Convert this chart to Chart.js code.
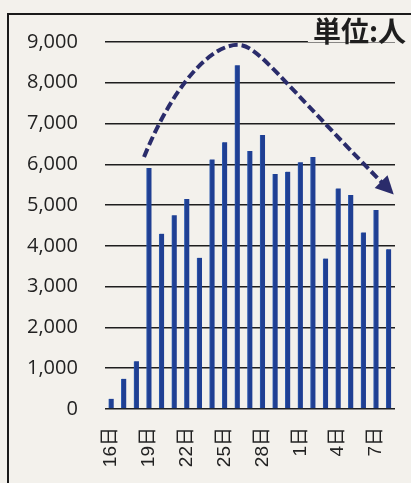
<!DOCTYPE html>
<html>
<head>
<meta charset="utf-8">
<script src="https://cdn.jsdelivr.net/npm/chart.js@4"></script>
<style>
  body { margin: 0; background: #f3f1ec; }
  #frame { position: absolute; left: 7px; top: 13px; width: 420px; height: 480px;
           border-left: 2px solid #1a1a1a; border-top: 2px solid #1a1a1a; }
  #wrap { position: absolute; left: 0; top: 0; width: 411px; height: 483px; }
</style>
</head>
<body>
<div id="frame"></div>
<div id="wrap"><canvas id="myChart"></canvas></div>
<script>
// days 16..30, then 1..8 of next month
const days = ["16日", "17日", "18日", "19日", "20日", "21日", "22日", "23日", "24日", "25日",
  "26日", "27日", "28日", "29日", "30日", "1日", "2日", "3日", "4日", "5日", "6日", "7日", "8日"];
const visitors = [250, 740, 1170, 5910, 4300, 4750, 5150, 3710, 6120, 6540,
  8430, 6330, 6720, 5760, 5820, 6050, 6180, 3690, 5410, 5250, 4330, 4880, 3920];
const yMax = 9000;
const yStep = 1000;
const unitLabel = "単位:人";

// trend arrow, in data units (category index, value)
const trendX = [2.6, 5.0, 8.0, 10.1, 11.6, 13.2, 22.4];
const trendY = [6180, 8000, 8950, 8930, 8920, 8150, 5260];

const arrowPlugin = {
  id: "trendArrow",
  afterDatasetsDraw(chart) {
    const ctx = chart.ctx;
    const xs = chart.scales.x, ys = chart.scales.y;
    const px = trendX.map(v => xs.getPixelForValue(v));
    const py = trendY.map(v => ys.getPixelForValue(v));
    const n = px.length - 1;
    // stop line short of tip so the head covers it
    const dx = px[n] - px[n - 1], dy = py[n] - py[n - 1];
    const len = Math.sqrt(dx * dx + dy * dy);
    const ux = dx / len, uy = dy / len;
    const endX = px[n] - ux * 10, endY = py[n] - uy * 10;

    ctx.save();
    ctx.strokeStyle = "#2a2c6b";
    ctx.lineWidth = 4;
    ctx.setLineDash([9, 4]);
    ctx.beginPath();
    ctx.moveTo(px[0], py[0]);
    ctx.bezierCurveTo(px[1], py[1], px[2], py[2], px[3], py[3]);
    ctx.bezierCurveTo(px[4], py[4], px[5], py[5], endX, endY);
    ctx.stroke();
    ctx.setLineDash([]);
    ctx.fillStyle = "#2a2c6b";
    ctx.beginPath();
    ctx.moveTo(px[n], py[n]);
    ctx.lineTo(px[n] - ux * 18 - uy * 9, py[n] - uy * 18 + ux * 9);
    ctx.lineTo(px[n] - ux * 18 + uy * 9, py[n] - uy * 18 - ux * 9);
    ctx.closePath();
    ctx.fill();
    ctx.restore();
  }
};

const unitPlugin = {
  id: "unitLabel",
  afterDraw(chart) {
    const ctx = chart.ctx;
    ctx.save();
    ctx.font = "bold 28px 'Noto Sans CJK JP'";
    ctx.textAlign = "right";
    ctx.textBaseline = "alphabetic";
    const w = ctx.measureText(unitLabel).width;
    ctx.fillStyle = "#f3f1ec";
    ctx.fillRect(chart.width - 6 - w - 4, 18, w + 4, 24);
    ctx.fillStyle = "#1e1e1e";
    ctx.fillText(unitLabel, chart.width - 5, 42);
    ctx.restore();
  }
};

let ctx = document.getElementById("myChart").getContext("2d");
let myChart = new Chart(ctx, {
  type: "bar",
  data: {
    labels: days,
    datasets: [
      {
        data: visitors,
        backgroundColor: "#1f3f93",
        borderColor: "#2d5bb0",
        borderWidth: { left: 1, right: 0, top: 0, bottom: 0 },
        barThickness: 5,
      },
    ],
  },
  options: {
    responsive: true,
    maintainAspectRatio: false,
    animation: false,
    layout: { padding: { left: 0, right: 16, top: 42, bottom: 0 } },
    plugins: { legend: { display: false }, tooltip: { enabled: false } },
    scales: {
      x: {
        grid: { display: false, drawTicks: false },
        border: { display: false },
        afterFit: scale => {
          scale.height = 74;
          scale.paddingLeft = 0;
          scale.paddingRight = 0;
        },
        ticks: {
          autoSkip: false,
          maxRotation: 90,
          minRotation: 90,
          padding: 18,
          color: "#222",
          font: { family: "'Liberation Sans', 'Noto Sans CJK JP'", size: 19 },
          callback: (v, i) => (i % 3 === 0 ? days[i] : ""),
        },
      },
      y: {
        min: 0,
        max: yMax,
        border: { display: false },
        grid: { color: "#1e1e1e", lineWidth: 1.5, drawTicks: false },
        ticks: {
          stepSize: yStep,
          padding: 27,
          color: "#222",
          font: { family: "'Open Sans'", size: 20 },
          callback: v => v.toLocaleString("en-US"),
        },
      },
    },
  },
  plugins: [arrowPlugin, unitPlugin],
});
</script>
</body>
</html>
